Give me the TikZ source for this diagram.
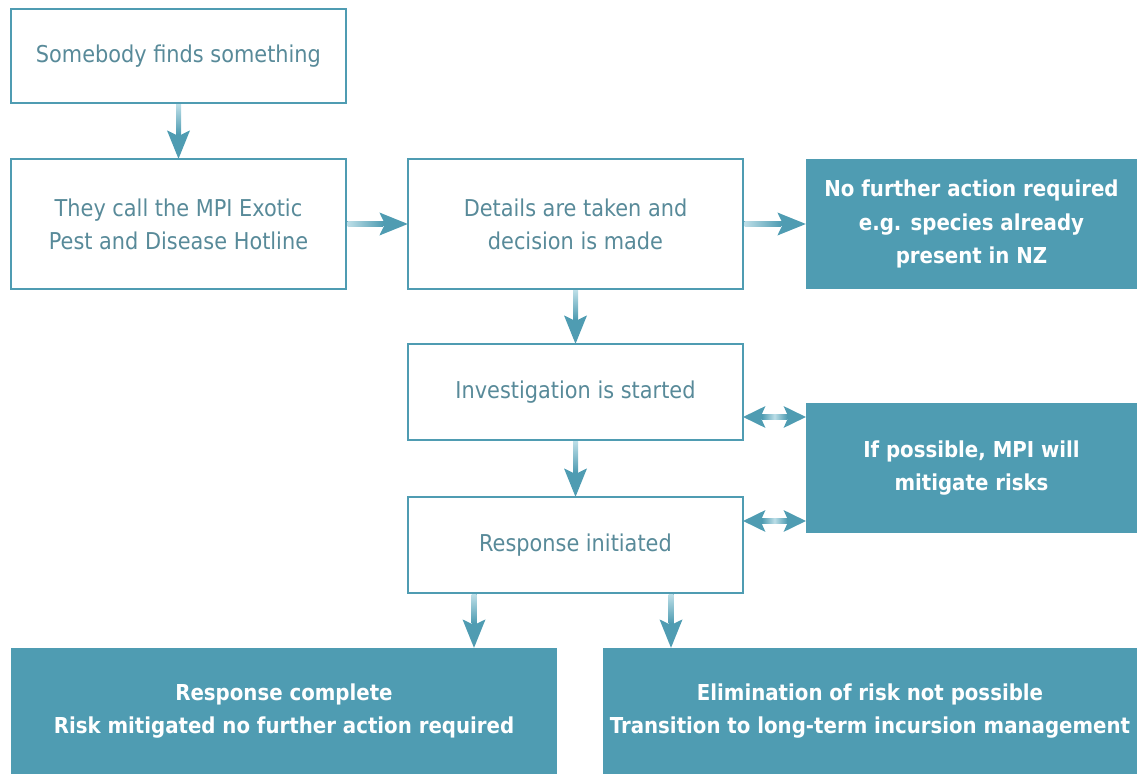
\documentclass[tikz,border=0pt]{standalone}
\usepackage{fontspec}
\setmainfont{DejaVu Sans Condensed}
\usepackage{tikz}
\usetikzlibrary{arrows.meta,positioning,calc}

\definecolor{boxfill}{RGB}{79,156,178}
\definecolor{boxtext}{RGB}{88,138,153}
\definecolor{flowlight}{RGB}{188,222,231}

% shaded arrows, from node to node
\newcommand{\vflow}[2]{%
  \draw[flow] (#1) -- (#2);
  \shade[top color=flowlight, bottom color=boxfill] ($(#1)+(-0.05,-0.03)$) rectangle ($(#2)+(0.05,0.5)$);
}
\newcommand{\hflow}[2]{%
  \draw[flow] (#1) -- (#2);
  \shade[left color=flowlight, right color=boxfill] ($(#1)+(0.03,-0.05)$) rectangle ($(#2)+(-0.5,0.05)$);
}
\newcommand{\bflow}[2]{%
  \draw[twoway] (#1) -- (#2);
  \shade[left color=boxfill, right color=boxfill, middle color=flowlight] ($(#1)+(0.38,-0.05)$) rectangle ($(#2)+(-0.38,0.05)$);
}

\begin{document}
\begin{tikzpicture}[
    stage/.style={rectangle, draw=boxfill, line width=0.05cm, text=boxtext, minimum width=6.7cm, inner sep=0pt, outer sep=0pt, align=center, font=\fontsize{13.2}{18.7}\selectfont},
    outcome/.style={rectangle, fill=boxfill, text=white, inner sep=0pt, outer sep=0pt, align=center, font=\fontsize{12.5}{19.3}\selectfont\bfseries},
    flow/.style={draw=boxfill, line width=0.1cm, -{Stealth[length=0.56cm, width=0.44cm, inset=0.1cm]}},
    twoway/.style={draw=boxfill, line width=0.1cm, {Stealth[length=0.44cm, width=0.42cm, inset=0.09cm]}-{Stealth[length=0.44cm, width=0.42cm, inset=0.09cm]}}
]
\useasboundingbox (0,0) rectangle (22.74,-15.48);

\node[stage, minimum height=1.88cm, anchor=north west] (find) at (0.22,-0.18) {Somebody finds something};
\node[stage, minimum height=2.6cm, below=1.12cm of find] (call) {They call the MPI Exotic\\Pest and Disease Hotline};
\node[stage, minimum height=2.6cm, right=1.24cm of call] (details) {Details are taken and\\decision is made};
\node[outcome, minimum width=6.62cm, minimum height=2.6cm, right=1.26cm of details] (noaction) {No further action required\\e.g. species already\\present in NZ};
\node[stage, minimum height=1.92cm, below=1.1cm of details] (investigate) {Investigation is started};
\node[stage, minimum height=1.92cm, below=1.14cm of investigate] (response) {Response initiated};
\node[outcome, minimum width=6.62cm, minimum height=2.6cm, below=2.28cm of noaction] (mitigate) {If possible, MPI will\\mitigate risks};
\node[outcome, minimum width=10.92cm, minimum height=2.52cm, anchor=north west] (complete) at ($(call.south west |- response.south)+(0,-1.1)$) {Response complete\\Risk mitigated no further action required};
\node[outcome, minimum width=10.68cm, minimum height=2.52cm, anchor=north east] (longterm) at ($(noaction.east |- response.south)+(0,-1.1)$) {Elimination of risk not possible\\Transition to long-term incursion management};

\coordinate (gh) at ($(response.south west)+(1.32,0)$);
\coordinate (gi) at ($(response.south west)+(5.26,0)$);
\coordinate (hn) at (gh |- complete.north);
\coordinate (in) at (gi |- longterm.north);
\coordinate (ef) at ($(mitigate.north west)+(0,-0.28)$);
\coordinate (gf) at ($(mitigate.south west)+(0,0.24)$);
\coordinate (ie) at (investigate.east |- ef);
\coordinate (re) at (response.east |- gf);

\vflow{find.south}{call.north}
\hflow{call.east}{details.west}
\hflow{details.east}{noaction.west}
\vflow{details.south}{investigate.north}
\vflow{investigate.south}{response.north}
\vflow{gh}{hn}
\vflow{gi}{in}
\bflow{ie}{ef}
\bflow{re}{gf}
\end{tikzpicture}
\end{document}
